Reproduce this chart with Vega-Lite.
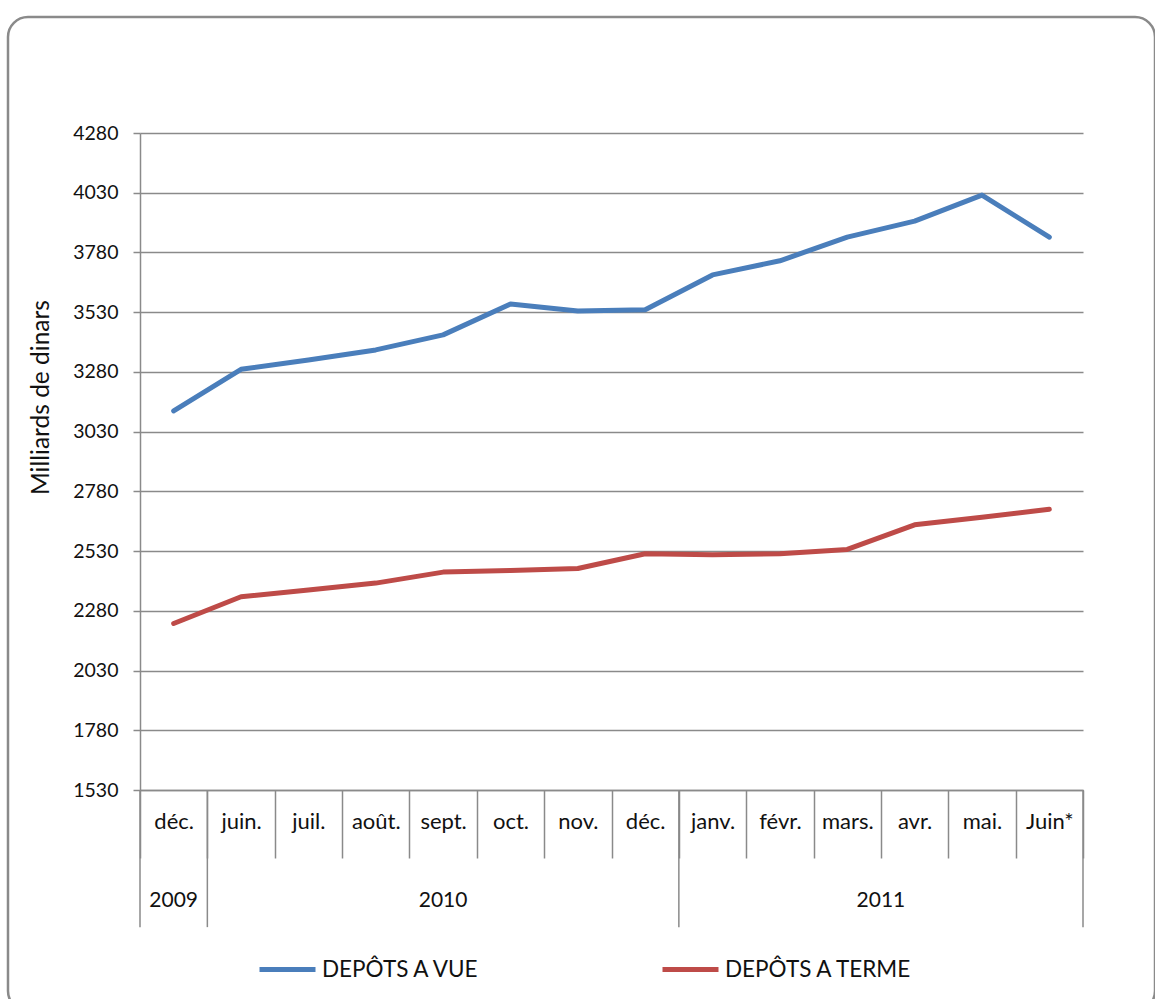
{
  "$schema": "https://vega.github.io/schema/vega-lite/v6.json",
  "autosize": "none",
  "padding": {"left": 8, "top": 17, "right": 0, "bottom": -12},
  "width": 1147,
  "height": 994,
  "background": "white",
  "view": {"stroke": "#8a8a8a", "strokeWidth": 2.5, "cornerRadius": 20, "fill": "white"},
  "config": {
    "font": "Lato",
    "axis": {"labelFont": "Lato", "titleFont": "Lato", "labelColor": "#111111", "titleColor": "#111111"},
    "legend": {"labelFont": "Lato", "labelColor": "#111111"}
  },
  "datasets": {
    "depots": [
      {"mois": "déc. 2009", "serie": "DEPÔTS A VUE", "valeur": 3117},
      {"mois": "juin. 2010", "serie": "DEPÔTS A VUE", "valeur": 3291},
      {"mois": "juil. 2010", "serie": "DEPÔTS A VUE", "valeur": 3330},
      {"mois": "août. 2010", "serie": "DEPÔTS A VUE", "valeur": 3372},
      {"mois": "sept. 2010", "serie": "DEPÔTS A VUE", "valeur": 3435},
      {"mois": "oct. 2010", "serie": "DEPÔTS A VUE", "valeur": 3564},
      {"mois": "nov. 2010", "serie": "DEPÔTS A VUE", "valeur": 3535},
      {"mois": "déc. 2010", "serie": "DEPÔTS A VUE", "valeur": 3540},
      {"mois": "janv. 2011", "serie": "DEPÔTS A VUE", "valeur": 3686},
      {"mois": "févr. 2011", "serie": "DEPÔTS A VUE", "valeur": 3745},
      {"mois": "mars. 2011", "serie": "DEPÔTS A VUE", "valeur": 3844},
      {"mois": "avr. 2011", "serie": "DEPÔTS A VUE", "valeur": 3911},
      {"mois": "mai. 2011", "serie": "DEPÔTS A VUE", "valeur": 4020},
      {"mois": "Juin* 2011", "serie": "DEPÔTS A VUE", "valeur": 3844},
      {"mois": "déc. 2009", "serie": "DEPÔTS A TERME", "valeur": 2227},
      {"mois": "juin. 2010", "serie": "DEPÔTS A TERME", "valeur": 2339},
      {"mois": "juil. 2010", "serie": "DEPÔTS A TERME", "valeur": 2367},
      {"mois": "août. 2010", "serie": "DEPÔTS A TERME", "valeur": 2396},
      {"mois": "sept. 2010", "serie": "DEPÔTS A TERME", "valeur": 2442},
      {"mois": "oct. 2010", "serie": "DEPÔTS A TERME", "valeur": 2449},
      {"mois": "nov. 2010", "serie": "DEPÔTS A TERME", "valeur": 2457},
      {"mois": "déc. 2010", "serie": "DEPÔTS A TERME", "valeur": 2519},
      {"mois": "janv. 2011", "serie": "DEPÔTS A TERME", "valeur": 2515},
      {"mois": "févr. 2011", "serie": "DEPÔTS A TERME", "valeur": 2519},
      {"mois": "mars. 2011", "serie": "DEPÔTS A TERME", "valeur": 2537},
      {"mois": "avr. 2011", "serie": "DEPÔTS A TERME", "valeur": 2640},
      {"mois": "mai. 2011", "serie": "DEPÔTS A TERME", "valeur": 2672},
      {"mois": "Juin* 2011", "serie": "DEPÔTS A TERME", "valeur": 2705}
    ],
    "separateurs": [
      {"mois": "déc. 2009"},
      {"mois": "juin. 2010"},
      {"mois": "janv. 2011"}
    ],
    "fin": [
      {"mois": "Juin* 2011"}
    ],
    "annees_centre": [
      {"mois": "déc. 2009", "annee": "2009"},
      {"mois": "sept. 2010", "annee": "2010"}
    ],
    "annees_bord": [
      {"mois": "avr. 2011", "annee": "2011"}
    ]
  },
  "layer": [
    {
      "data": {"name": "depots"},
      "mark": {"type": "line", "strokeWidth": 5, "strokeCap": "round", "strokeJoin": "round"},
      "encoding": {
        "x": {
          "field": "mois", "type": "nominal",
          "scale": {
            "domain": ["déc. 2009", "juin. 2010", "juil. 2010", "août. 2010", "sept. 2010", "oct. 2010", "nov. 2010", "déc. 2010", "janv. 2011", "févr. 2011", "mars. 2011", "avr. 2011", "mai. 2011", "Juin* 2011"],
            "range": [132, 1075],
            "paddingInner": 0, "paddingOuter": 0
          },
          "axis": {
            "orient": "bottom", "offset": -221, "title": null,
            "labelExpr": "split(datum.label, ' ')[0]",
            "labelAngle": 0,
            "labelFontSize": 22,
            "labelBaseline": "alphabetic",
            "labelPadding": -30,
            "tickBand": "extent",
            "tickSize": 68, "tickColor": "#8a8a8a", "tickWidth": 1.5,
            "domainColor": "#8a8a8a", "domainWidth": 1.5,
            "grid": false
          }
        },
        "y": {
          "field": "valeur", "type": "quantitative",
          "scale": {"domain": [1530, 4280], "range": [773, 116], "nice": false, "zero": false},
          "axis": {
            "orient": "left", "offset": -132,
            "values": [1530, 1780, 2030, 2280, 2530, 2780, 3030, 3280, 3530, 3780, 4030, 4280],
            "format": "d",
            "title": "Milliards de dinars",
            "titleFontSize": 24.5, "titleFontWeight": "normal",
            "titleX": -99, "titleY": 380, "titleAngle": -90,
            "titleAlign": "center", "titleBaseline": "middle",
            "labelFontSize": 19.5, "labelPadding": 15,
            "tickSize": 7, "tickColor": "#8a8a8a", "tickWidth": 1.5,
            "domainColor": "#8a8a8a", "domainWidth": 1.5,
            "grid": true, "gridColor": "#8a8a8a", "gridWidth": 1.5
          }
        },
        "color": {
          "field": "serie", "type": "nominal",
          "scale": {"domain": ["DEPÔTS A VUE", "DEPÔTS A TERME"], "range": ["#4A7EBB", "#BE4B48"]},
          "legend": {
            "title": null, "orient": "none", "direction": "horizontal",
            "legendX": 249, "legendY": 922,
            "symbolType": "stroke", "symbolSize": 3136, "symbolStrokeWidth": 5,
            "labelFontSize": 22.5, "labelOffset": 4, "labelLimit": 400, "columnPadding": 172
          }
        }
      }
    },
    {
      "data": {"name": "separateurs"},
      "mark": {"type": "rule", "color": "#8a8a8a", "strokeWidth": 1.5},
      "encoding": {
        "x": {"field": "mois", "type": "nominal", "bandPosition": 0},
        "y": {"datum": 1530, "type": "quantitative"},
        "y2": {"datum": 956}
      }
    },
    {
      "data": {"name": "fin"},
      "mark": {"type": "rule", "color": "#8a8a8a", "strokeWidth": 1.5},
      "encoding": {
        "x": {"field": "mois", "type": "nominal", "bandPosition": 1},
        "y": {"datum": 1530, "type": "quantitative"},
        "y2": {"datum": 956}
      }
    },
    {
      "data": {"name": "annees_centre"},
      "mark": {"type": "text", "fontSize": 21, "font": "Lato", "color": "#111111", "baseline": "alphabetic", "align": "center"},
      "encoding": {
        "x": {"field": "mois", "type": "nominal", "bandPosition": 0.5},
        "y": {"datum": 1040, "type": "quantitative"},
        "text": {"field": "annee"}
      }
    },
    {
      "data": {"name": "annees_bord"},
      "mark": {"type": "text", "fontSize": 21, "font": "Lato", "color": "#111111", "baseline": "alphabetic", "align": "center"},
      "encoding": {
        "x": {"field": "mois", "type": "nominal", "bandPosition": 0},
        "y": {"datum": 1040, "type": "quantitative"},
        "text": {"field": "annee"}
      }
    }
  ]
}
